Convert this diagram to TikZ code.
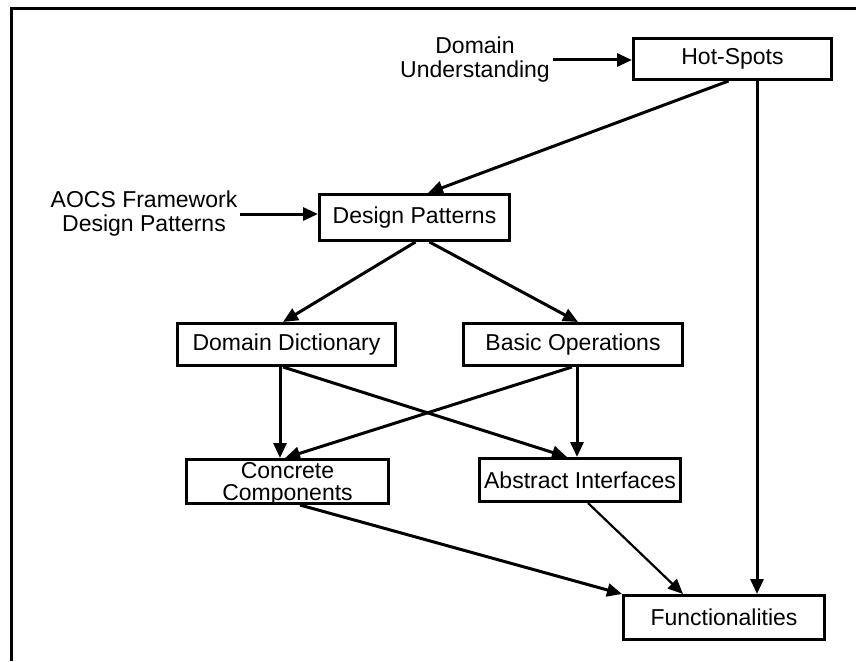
\documentclass[tikz,border=0pt]{standalone}
\usepackage{fontspec}
\setmainfont{Liberation Sans}
\usetikzlibrary{arrows.meta}

\begin{document}
\begin{tikzpicture}[x=1pt, y=-1pt,
  box/.style={draw=black, line width=3pt, minimum height=42pt,
              inner sep=0pt, align=center,
              font=\fontsize{23}{24}\selectfont},
  lbl/.style={inner sep=3pt, align=center,
              font=\fontsize{23}{24}\selectfont},
  arr/.style={-{Triangle[length=15pt, width=13pt]}, line width=3pt},
]
\useasboundingbox (0,0) rectangle (856,661);
% Frame, cut off at right and bottom
\draw[line width=3pt] (11.5,661) -- (11.5,8.5) -- (856,8.5);

% Boxes
\node[box, minimum width=198pt, minimum height=41pt] (hot) at (732.5,59) {Hot-Spots};
\node[box, minimum width=190pt, minimum height=46pt] (dp) at (414.5,217.5) {Design Patterns};
\node[box, minimum width=218pt] (dd) at (286.5,344.5) {Domain Dictionary};
\node[box, minimum width=219pt] (bo) at (573,344.5) {Basic Operations};
\node[box, minimum width=202pt, minimum height=44pt, text depth=0pt,
      font=\fontsize{23}{22.5}\selectfont] (cc) at (287.5,481.5) {Concrete\\Components};
\node[box, minimum width=201pt, minimum height=43pt] (ai) at (580,480) {Abstract Interfaces};
\node[box, minimum width=201pt, minimum height=44pt] (fn) at (724,617.5) {Functionalities};

% Inputs
\node[lbl] (du) at (475,60) {Domain\\Understanding};
\node[lbl] (aocs) at (144,214) {AOCS Framework\\Design Patterns};

\draw[arr] (du.east) -- (du.east -| hot.west);
\draw[arr] (aocs.east) -- (aocs.east -| dp.west);

% Links
\draw[arr] ([xshift=-4pt]hot.south) -- ([xshift=13.5pt]dp.north);
\draw[arr] ([xshift=24.5pt]hot.south) -- ([xshift=24.5pt]hot.south |- fn.north);
\draw[arr] ([xshift=1pt]dp.south) -- ([xshift=-3.5pt]dd.north);
\draw[arr] ([xshift=15pt]dp.south) -- ([xshift=5pt]bo.north);
\draw[arr] ([xshift=-6.5pt]dd.south) -- ([xshift=-6.5pt]dd.south |- cc.north);
\draw[arr] ([xshift=-3.5pt]dd.south) -- ([xshift=-13pt]ai.north);
\draw[arr] ([xshift=4pt]bo.south) -- ([xshift=4pt]bo.south |- ai.north);
\draw[arr] ([xshift=-1pt]bo.south) -- ([xshift=-2.5pt]cc.north);
\draw[arr] ([xshift=12.5pt]cc.south) -- (fn.north west);
\draw[arr, line width=2.2pt] ([xshift=8pt]ai.south) -- ([xshift=-41pt]fn.north);
\end{tikzpicture}
\end{document}
